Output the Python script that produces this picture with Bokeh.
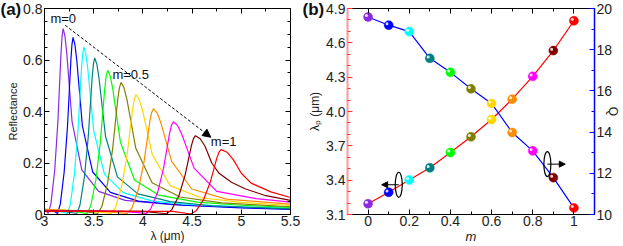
from bokeh.plotting import figure
from bokeh.layouts import row
from bokeh.models import (Range1d, LinearAxis, SingleIntervalTicker, FixedTicker,
                          CustomJSTickFormatter, Label, Arrow, NormalHead,
                          ColumnDataSource)
from bokeh.transform import dodge
from bokeh.embed import file_html
from bokeh.resources import INLINE

FONT = "Liberation Sans"

# ---------------- data ----------------
m_values = [0.0, 0.1, 0.2, 0.3, 0.4, 0.5, 0.6, 0.7, 0.8, 0.9, 1.0]
colors = ["#8A2BE2", "#0000FF", "#00FFFF", "#008080", "#00FF00", "#808000",
          "#FFD700", "#FF8C00", "#FF00FF", "#800000", "#FF0000"]
lam_peak = [3.194, 3.294, 3.402, 3.508, 3.642, 3.779, 3.930, 4.108, 4.307, 4.532, 4.793]
q_factor = [19.59, 19.19, 18.88, 17.58, 16.90, 16.10, 15.39, 13.98, 13.09, 11.79, 10.32]

wl_m00 = [3.0, 3.039, 3.066, 3.104, 3.136, 3.168, 3.179, 3.19, 3.208, 3.226, 3.28, 3.379, 3.55, 3.82, 4.3, 5.0, 5.5]
r_m00 = [0.02, 0.005, 0.043, 0.173, 0.361, 0.628, 0.693, 0.722, 0.693, 0.628, 0.361, 0.173, 0.09, 0.055, 0.038, 0.028, 0.022]
wl_m01 = [3.0, 3.10, 3.133, 3.161, 3.200, 3.234, 3.268, 3.279, 3.29, 3.309, 3.328, 3.385, 3.49, 3.67, 3.955, 4.4, 5.0, 5.5]
r_m01 = [0.018, 0.012, 0.004, 0.041, 0.165, 0.344, 0.599, 0.660, 0.688, 0.660, 0.599, 0.344, 0.165, 0.086, 0.052, 0.036, 0.026, 0.02]
wl_m02 = [3.0, 3.15, 3.232, 3.262, 3.304, 3.34, 3.376, 3.388, 3.40, 3.42, 3.44, 3.50, 3.61, 3.80, 4.10, 4.5, 5.0, 5.5]
r_m02 = [0.02, 0.013, 0.004, 0.039, 0.156, 0.325, 0.566, 0.624, 0.65, 0.624, 0.566, 0.325, 0.156, 0.085, 0.052, 0.038, 0.03, 0.025]
wl_m03 = [3.0, 3.2, 3.328, 3.36, 3.406, 3.445, 3.484, 3.497, 3.51, 3.532, 3.554, 3.62, 3.741, 3.95, 4.28, 4.7, 5.5]
r_m03 = [0.018, 0.012, 0.004, 0.036, 0.146, 0.304, 0.529, 0.584, 0.608, 0.584, 0.529, 0.304, 0.146, 0.08, 0.05, 0.034, 0.022]
wl_m04 = [3.0, 3.3, 3.432, 3.47, 3.522, 3.567, 3.612, 3.627, 3.642, 3.668, 3.694, 3.772, 3.915, 4.162, 4.55, 5.0, 5.5]
r_m04 = [0.02, 0.012, 0.004, 0.034, 0.134, 0.28, 0.487, 0.538, 0.56, 0.538, 0.487, 0.28, 0.134, 0.075, 0.048, 0.036, 0.028]
wl_m05 = [3.0, 3.4, 3.54, 3.583, 3.642, 3.693, 3.744, 3.761, 3.778, 3.808, 3.838, 3.928, 4.093, 4.378, 4.8, 5.5]
r_m05 = [0.02, 0.012, 0.004, 0.031, 0.123, 0.257, 0.446, 0.492, 0.513, 0.492, 0.446, 0.257, 0.123, 0.068, 0.045, 0.03]
wl_m06 = [3.0, 3.5, 3.678, 3.723, 3.786, 3.84, 3.894, 3.912, 3.93, 3.963, 3.996, 4.095, 4.277, 4.59, 5.0, 5.5]
r_m06 = [0.02, 0.012, 0.004, 0.028, 0.112, 0.233, 0.405, 0.446, 0.465, 0.446, 0.405, 0.233, 0.112, 0.065, 0.047, 0.035]
wl_m07 = [3.0, 3.6, 3.841, 3.889, 3.955, 4.012, 4.069, 4.088, 4.107, 4.144, 4.181, 4.292, 4.496, 4.847, 5.5]
r_m07 = [0.018, 0.012, 0.004, 0.025, 0.099, 0.206, 0.358, 0.395, 0.411, 0.395, 0.358, 0.206, 0.099, 0.06, 0.04]
wl_m08 = [3.0, 3.8, 4.03, 4.08, 4.15, 4.21, 4.27, 4.29, 4.31, 4.352, 4.394, 4.52, 4.751, 5.15, 5.5]
r_m08 = [0.016, 0.012, 0.004, 0.022, 0.086, 0.18, 0.313, 0.346, 0.36, 0.346, 0.313, 0.18, 0.09, 0.062, 0.048]
wl_m09 = [3.0, 4.0, 4.24, 4.292, 4.366, 4.429, 4.492, 4.513, 4.534, 4.582, 4.63, 4.70, 4.774, 4.9, 5.038, 5.25, 5.5]
r_m09 = [0.014, 0.012, 0.003, 0.018, 0.073, 0.153, 0.266, 0.294, 0.306, 0.294, 0.266, 0.2, 0.16, 0.125, 0.1, 0.073, 0.055]
wl_m10 = [3.0, 4.3, 4.487, 4.542, 4.619, 4.685, 4.751, 4.773, 4.795, 4.855, 4.92, 5.0, 5.1, 5.3, 5.5]
r_m10 = [0.012, 0.012, 0.002, 0.015, 0.06, 0.126, 0.219, 0.242, 0.252, 0.242, 0.212, 0.16, 0.122, 0.088, 0.066]

spectra_wl = [wl_m00, wl_m01, wl_m02, wl_m03, wl_m04, wl_m05, wl_m06, wl_m07, wl_m08, wl_m09, wl_m10]
spectra_r = [r_m00, r_m01, r_m02, r_m03, r_m04, r_m05, r_m06, r_m07, r_m08, r_m09, r_m10]

# annotations (data coordinates)
trend_arrow = [3.21, 0.735, 4.69, 0.30]
a_labels = ["m=0", "m=0.5", "m=1"]
a_label_x = [3.06, 3.69, 4.69]
a_label_y = [0.762, 0.545, 0.282]
ell_x = [0.149, 0.871]
ell_y = [3.36, 3.54]
ell_arrow_end = [0.066, 0.958]

num_fmt = CustomJSTickFormatter(code="return String(Number(tick.toFixed(2)));")
blank_fmt = CustomJSTickFormatter(code="return '';")


def style_axis(ax, color="black", labels=True, size="14px"):
    ax.axis_line_color = color
    ax.major_tick_line_color = color
    ax.minor_tick_line_color = color
    ax.major_tick_in = 5
    ax.major_tick_out = 0
    ax.minor_tick_in = 3
    ax.minor_tick_out = 0
    ax.major_label_text_font = FONT
    ax.major_label_text_color = "#222222"
    ax.axis_label_text_font = FONT
    ax.axis_label_text_font_style = "normal"
    ax.axis_label_text_color = "#222222"
    ax.major_label_standoff = 2
    ax.axis_label_standoff = 1
    if labels:
        ax.major_label_text_font_size = size
    else:
        ax.formatter = blank_fmt
        ax.major_label_text_font_size = "1px"
        ax.major_label_standoff = 0
        ax.axis_label_standoff = 0


def panel_title(p, text, offset):
    p.title.text = text
    p.title.align = "left"
    p.title.offset = offset
    p.title.vertical_align = "bottom"
    p.title.standoff = -21
    p.title.text_font = FONT
    p.title.text_font_size = "17px"
    p.title.text_font_style = "bold"
    p.title.text_color = "#111111"


# ---------------- panel (a) ----------------
p1 = figure(width=302, height=246, x_range=Range1d(3, 5.5), y_range=Range1d(0, 0.8),
            output_backend="svg", toolbar_location=None,
            min_border_left=44, min_border_right=12, min_border_top=8, min_border_bottom=31,
            x_axis_location=None, y_axis_location=None)
p1.outline_line_color = None
p1.xgrid.visible = False
p1.ygrid.visible = False
panel_title(p1, "(a)", -44)

xt1 = SingleIntervalTicker(interval=0.5, num_minor_ticks=2)
yt1 = SingleIntervalTicker(interval=0.2, num_minor_ticks=4)
ax_b = LinearAxis(ticker=xt1, formatter=num_fmt, axis_label="λ (μm)")
ax_t = LinearAxis(ticker=xt1)
ax_l = LinearAxis(ticker=yt1, formatter=num_fmt, axis_label="Reflectance")
ax_r = LinearAxis(ticker=yt1)
style_axis(ax_b)
style_axis(ax_t, labels=False)
style_axis(ax_l)
style_axis(ax_r, labels=False)
ax_b.major_label_standoff = 1
ax_b.axis_label_standoff = 0
ax_b.axis_label_text_font_size = "12px"
ax_l.axis_label_text_font_size = "11px"
p1.add_layout(ax_b, "below")
p1.add_layout(ax_t, "above")
p1.add_layout(ax_l, "left")
p1.add_layout(ax_r, "right")

for wl, rr, c in zip(spectra_wl, spectra_r, colors):
    p1.line(wl, rr, line_color=c, line_width=1.2)

p1.add_layout(Arrow(end=NormalHead(size=8, fill_color="black", line_color="black"),
                    x_start=trend_arrow[0], y_start=trend_arrow[1],
                    x_end=trend_arrow[2], y_end=trend_arrow[3],
                    line_color="black", line_width=1, line_dash="3 2"))
for t, x, y in zip(a_labels, a_label_x, a_label_y):
    p1.add_layout(Label(x=x, y=y, text=t, text_font=FONT, text_font_size="13px",
                        text_color="#111111", text_baseline="middle"))

# ---------------- panel (b) ----------------
p2 = figure(width=321, height=246, x_range=Range1d(-0.1, 1.1), y_range=Range1d(3.1, 4.9),
            output_backend="svg", toolbar_location=None,
            min_border_left=45, min_border_right=26, min_border_top=8, min_border_bottom=31,
            x_axis_location=None, y_axis_location=None)
p2.extra_y_ranges = {"q": Range1d(10, 20)}
p2.outline_line_color = None
p2.xgrid.visible = False
p2.ygrid.visible = False
panel_title(p2, "(b)", -45)

xt2 = SingleIntervalTicker(interval=0.2, num_minor_ticks=2)
yt2 = FixedTicker(ticks=[3.1, 3.4, 3.7, 4.0, 4.3, 4.6, 4.9],
                  minor_ticks=[3.2, 3.3, 3.5, 3.6, 3.8, 3.9, 4.1, 4.2, 4.4, 4.5, 4.7, 4.8])
qt = SingleIntervalTicker(interval=2, num_minor_ticks=2)
bx_b = LinearAxis(ticker=xt2, formatter=num_fmt, axis_label="m")
bx_t = LinearAxis(ticker=xt2)
by_l = LinearAxis(ticker=yt2, formatter=CustomJSTickFormatter(code="return tick.toFixed(1);"),
                  axis_label="λₚ (μm)")
by_r = LinearAxis(ticker=qt, y_range_name="q", axis_label="Q")
style_axis(bx_b)
style_axis(bx_t, labels=False)
style_axis(by_l, color="#FF3333")
style_axis(by_r, color="#0000FF")
by_l.axis_line_color = "#FF9999"
by_l.axis_line_width = 2
by_r.axis_line_width = 1.5
bx_b.major_label_standoff = 1
bx_b.axis_label_standoff = 0
by_r.major_label_standoff = 2
by_r.axis_label_standoff = -9
bx_b.axis_label_text_font_style = "italic"
bx_b.axis_label_text_font_size = "13px"
by_l.axis_label_text_font_size = "12px"
by_r.axis_label_text_font_size = "12px"
p2.add_layout(bx_b, "below")
p2.add_layout(bx_t, "above")
p2.add_layout(by_l, "left")
p2.add_layout(by_r, "right")

src = ColumnDataSource(dict(m=m_values, lam=lam_peak, q=q_factor, c=colors))
p2.line("m", "lam", source=src, line_color="#FF0000", line_width=1.2)
p2.line("m", "q", source=src, line_color="#0000FF", line_width=1.2, y_range_name="q")
p2.scatter("m", "lam", source=src, size=9, fill_color="c", line_color="c", line_width=0.5)
p2.scatter("m", "q", source=src, size=9, fill_color="c", line_color="c", line_width=0.5,
           y_range_name="q")
p2.scatter(dodge("m", -0.008), dodge("lam", 0.012), source=src, size=3,
           fill_color="white", line_color=None, fill_alpha=0.85)
p2.scatter(dodge("m", -0.008), dodge("q", 0.07), source=src, size=3,
           fill_color="white", line_color=None, fill_alpha=0.85, y_range_name="q")

p2.ellipse(x=ell_x, y=ell_y, width=7, height=25, width_units="screen", height_units="screen",
           fill_color=None, line_color="black", line_width=1.2)
for x0, y0, x1 in zip(ell_x, ell_y, ell_arrow_end):
    p2.add_layout(Arrow(end=NormalHead(size=6, fill_color="black", line_color="black"),
                        x_start=x0, y_start=y0, x_end=x1, y_end=y0,
                        line_color="black", line_width=1))

layout = row(p1, p2)
open("out.html", "w").write(file_html(layout, INLINE))
